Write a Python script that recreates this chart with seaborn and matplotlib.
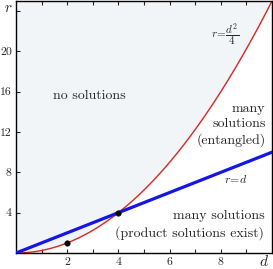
import numpy as np
import pandas as pd
import matplotlib
matplotlib.use("Agg")
import matplotlib.pyplot as plt
import seaborn as sns

# curve samples along d
d_vals = [0.0, 0.5, 1.0, 1.5, 2.0, 2.5, 3.0, 3.5, 4.0, 4.5, 5.0, 5.5, 6.0, 6.5, 7.0,
          7.5, 8.0, 8.5, 9.0, 9.5, 10.0]
d_line = [0.0, 10.0]
r_line = [0.0, 10.0]
pts_d = [2, 4]
pts_r = [1, 4]

sns.set_style("ticks")
plt.rcParams["font.family"] = ["cmr10", "DejaVu Serif"]
plt.rcParams["mathtext.fontset"] = "cm"
plt.rcParams["axes.formatter.use_mathtext"] = True

fig = plt.figure(figsize=(2.73, 2.69), dpi=100)
ax = fig.add_axes([16 / 273, 16 / 269, 256 / 273, 252 / 269])

# smooth parabola r = d^2/4
dd = np.linspace(d_vals[0], d_vals[-1], 201)
parab = pd.DataFrame({"d": dd, "r": dd ** 2 / 4})

ax.fill_between(parab["d"], parab["r"], 25, color="#f2f5f7", zorder=0)
sns.lineplot(data=parab, x="d", y="r", ax=ax, color="#d42a25", lw=1.0, zorder=2)
sns.lineplot(x=d_line, y=r_line, ax=ax, color="#1515e6", lw=2.3, zorder=3)
sns.scatterplot(x=pts_d, y=pts_r, ax=ax, color="black", s=16, edgecolor="black", zorder=4)

ax.set_xlim(0, 10)
ax.set_ylim(0, 25)
ax.set_xticks(range(1, 10))
ax.set_xticklabels(["", "2", "", "4", "", "6", "", "8", ""])
ax.set_yticks([4, 8, 12, 16, 20, 24])
ax.set_yticklabels(["4", "8", "12", "16", "20", ""])
ax.tick_params(direction="in", length=3, width=0.8, labelsize=8.5, pad=3,
               top=True, right=False)
ax.set_xlabel("")
ax.set_ylabel("")
for s in ax.spines.values():
    s.set_linewidth(1.0)
    s.set_color("black")

ax.text(-0.3, 24.3, "$r$", fontsize=11, ha="center", va="center")
ax.text(9.7, -0.85, "$d$", fontsize=11, ha="center", va="center")

ax.text(2.85, 15.6, "no solutions", fontsize=10, ha="center", va="center")
ax.text(9.75, 12.7, "many\nsolutions\n(entangled)", fontsize=10, ha="right",
        va="center", linespacing=1.35)
ax.text(9.7, 2.8, "many solutions\n(product solutions exist)", fontsize=10,
        ha="right", va="center", linespacing=1.4)
ax.text(8.6, 7.35, "$r\\!=\\!d$", fontsize=8.5, ha="center", va="center")
ax.text(8.15, 21.6, "$r\\!=\\!\\dfrac{d^2}{4}$", fontsize=8, ha="center", va="center")

fig.savefig("out.png", dpi=100)
